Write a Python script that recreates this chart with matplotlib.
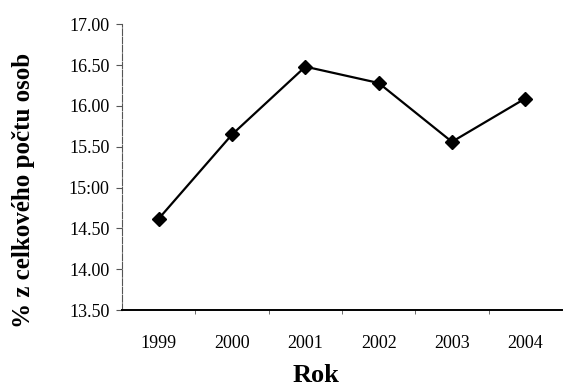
import numpy as np
import matplotlib.pyplot as plt

plt.rcParams['font.family'] = ['Liberation Serif', 'DejaVu Serif']

roky = ['1999', '2000', '2001', '2002', '2003', '2004']
hodnoty = [14.62, 15.65, 16.48, 16.28, 15.56, 16.09]
y_ticks = [13.5, 14.0, 14.5, 15.0, 15.5, 16.0, 16.5, 17.0]
y_labels = ['13.50', '14.00', '14.50', '15:00', '15.50', '16.00', '16.50', '17.00']

fig = plt.figure(figsize=(5.63, 3.90), dpi=100)
ax = fig.add_axes([0.217, 0.205, 0.781, 0.733])

x = np.arange(len(roky))
ax.plot(x, hodnoty, color='black', linewidth=1.6, marker='D', markersize=7,
        markerfacecolor='black', markeredgecolor='black')

ax.set_xlim(-0.5, len(roky) - 0.5)
ax.set_ylim(13.5, 17.0)
ax.set_yticks(y_ticks)
ax.set_yticklabels(y_labels, fontsize=13)
ax.set_xticks(x)
ax.set_xticklabels(roky, fontsize=13)
ax.tick_params(axis='x', length=0, pad=18)
ax.set_xticks(np.arange(0.5, len(roky) - 0.5), minor=True)
ax.tick_params(axis='x', which='minor', length=3, color='#555555', direction='out')
ax.tick_params(axis='y', length=4, color='#555555', direction='out', pad=5)

for s in ['top', 'right']:
    ax.spines[s].set_visible(False)
ax.spines['left'].set_color('#555555')
ax.spines['left'].set_linewidth(0.8)
ax.spines['left'].set_linestyle((0, (6, 1.5)))
ax.spines['bottom'].set_color('black')
ax.spines['bottom'].set_linewidth(1.4)

ax.set_ylabel('% z celkového počtu osob', fontsize=18, fontweight='bold')
ax.yaxis.set_label_coords(-0.198, 0.42)
ax.set_xlabel('Rok', fontsize=19, fontweight='bold')
ax.xaxis.set_label_coords(0.44, -0.188)

fig.savefig('out.png', dpi=100)
